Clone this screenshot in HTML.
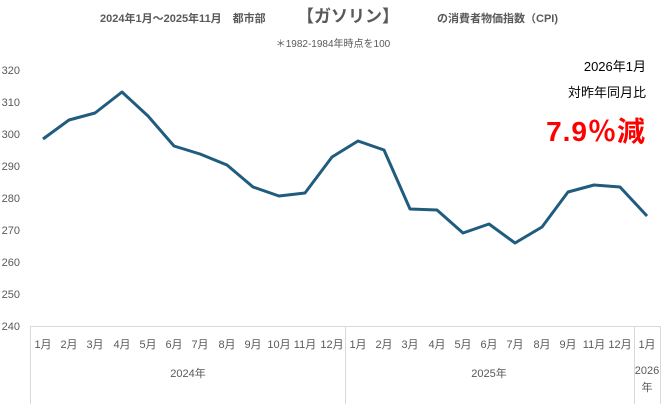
<!DOCTYPE html>
<html><head><meta charset="utf-8"><style>
body{margin:0;background:#fff;}
svg{display:block;font-family:"Liberation Sans","Noto Sans CJK JP",sans-serif;}
</style></head><body>
<svg width="667" height="404" viewBox="0 0 667 404">
<text x="100" y="22" font-size="11" font-weight="bold" fill="#595959">2024年1月～2025年11月　都市部</text>
<text x="297" y="22" font-size="17" font-weight="bold" fill="#595959">【ガソリン】</text>
<text x="437" y="22" font-size="11" font-weight="bold" fill="#595959">の消費者物価指数（CPI)</text>
<text x="333" y="47" font-size="10" fill="#595959" text-anchor="middle">＊1982-1984年時点を100</text>
<g font-size="11" fill="#595959" text-anchor="end">
<text x="20" y="74">320</text><text x="20" y="106">310</text><text x="20" y="138">300</text><text x="20" y="170">290</text><text x="20" y="202">280</text><text x="20" y="234">270</text><text x="20" y="266">260</text><text x="20" y="298">250</text><text x="20" y="330">240</text>
</g>
<g stroke="#d9d9d9" stroke-width="1">
<line x1="30" y1="326.5" x2="660" y2="326.5"/>
<line x1="30.5" y1="326" x2="30.5" y2="404"/>
<line x1="345.5" y1="326" x2="345.5" y2="404"/>
<line x1="634.5" y1="326" x2="634.5" y2="404"/>
<line x1="660.5" y1="326" x2="660.5" y2="404"/>
</g>
<g font-size="11" fill="#595959" text-anchor="middle">
<text x="43" y="348">1月</text><text x="69" y="348">2月</text><text x="95" y="348">3月</text><text x="122" y="348">4月</text><text x="148" y="348">5月</text><text x="174" y="348">6月</text><text x="200" y="348">7月</text><text x="227" y="348">8月</text><text x="253" y="348">9月</text><text x="279" y="348">10月</text><text x="305" y="348">11月</text><text x="332" y="348">12月</text>
<text x="358" y="348">1月</text><text x="384" y="348">2月</text><text x="410" y="348">3月</text><text x="437" y="348">4月</text><text x="463" y="348">5月</text><text x="489" y="348">6月</text><text x="515" y="348">7月</text><text x="542" y="348">8月</text><text x="568" y="348">9月</text><text x="594" y="348">11月</text><text x="620" y="348">12月</text><text x="647" y="348">1月</text>
<text x="188" y="377">2024年</text><text x="489" y="377">2025年</text>
<text x="647" y="374">2026</text><text x="647" y="391">年</text>
</g>
<polyline fill="none" stroke="#1f5c7e" stroke-width="3" stroke-linejoin="round" points="43,139 69,120 95,113 122,92 148,116 174,146 200,154 227,165 253,187 279,196 305,193 332,157 358,141 384,150 410,209 437,210 463,233 489,224 515,243 542,227 568,192 594,185 620,187 647,216"/>
<text x="646" y="71" font-size="13" fill="#000" text-anchor="end">2026年1月</text>
<text x="646" y="97" font-size="13" fill="#000" text-anchor="end">対昨年同月比</text>
<text x="646" y="141" font-size="28" font-weight="bold" fill="#ff0000" text-anchor="end" letter-spacing="1">7.9％減</text>
</svg>
</body></html>
